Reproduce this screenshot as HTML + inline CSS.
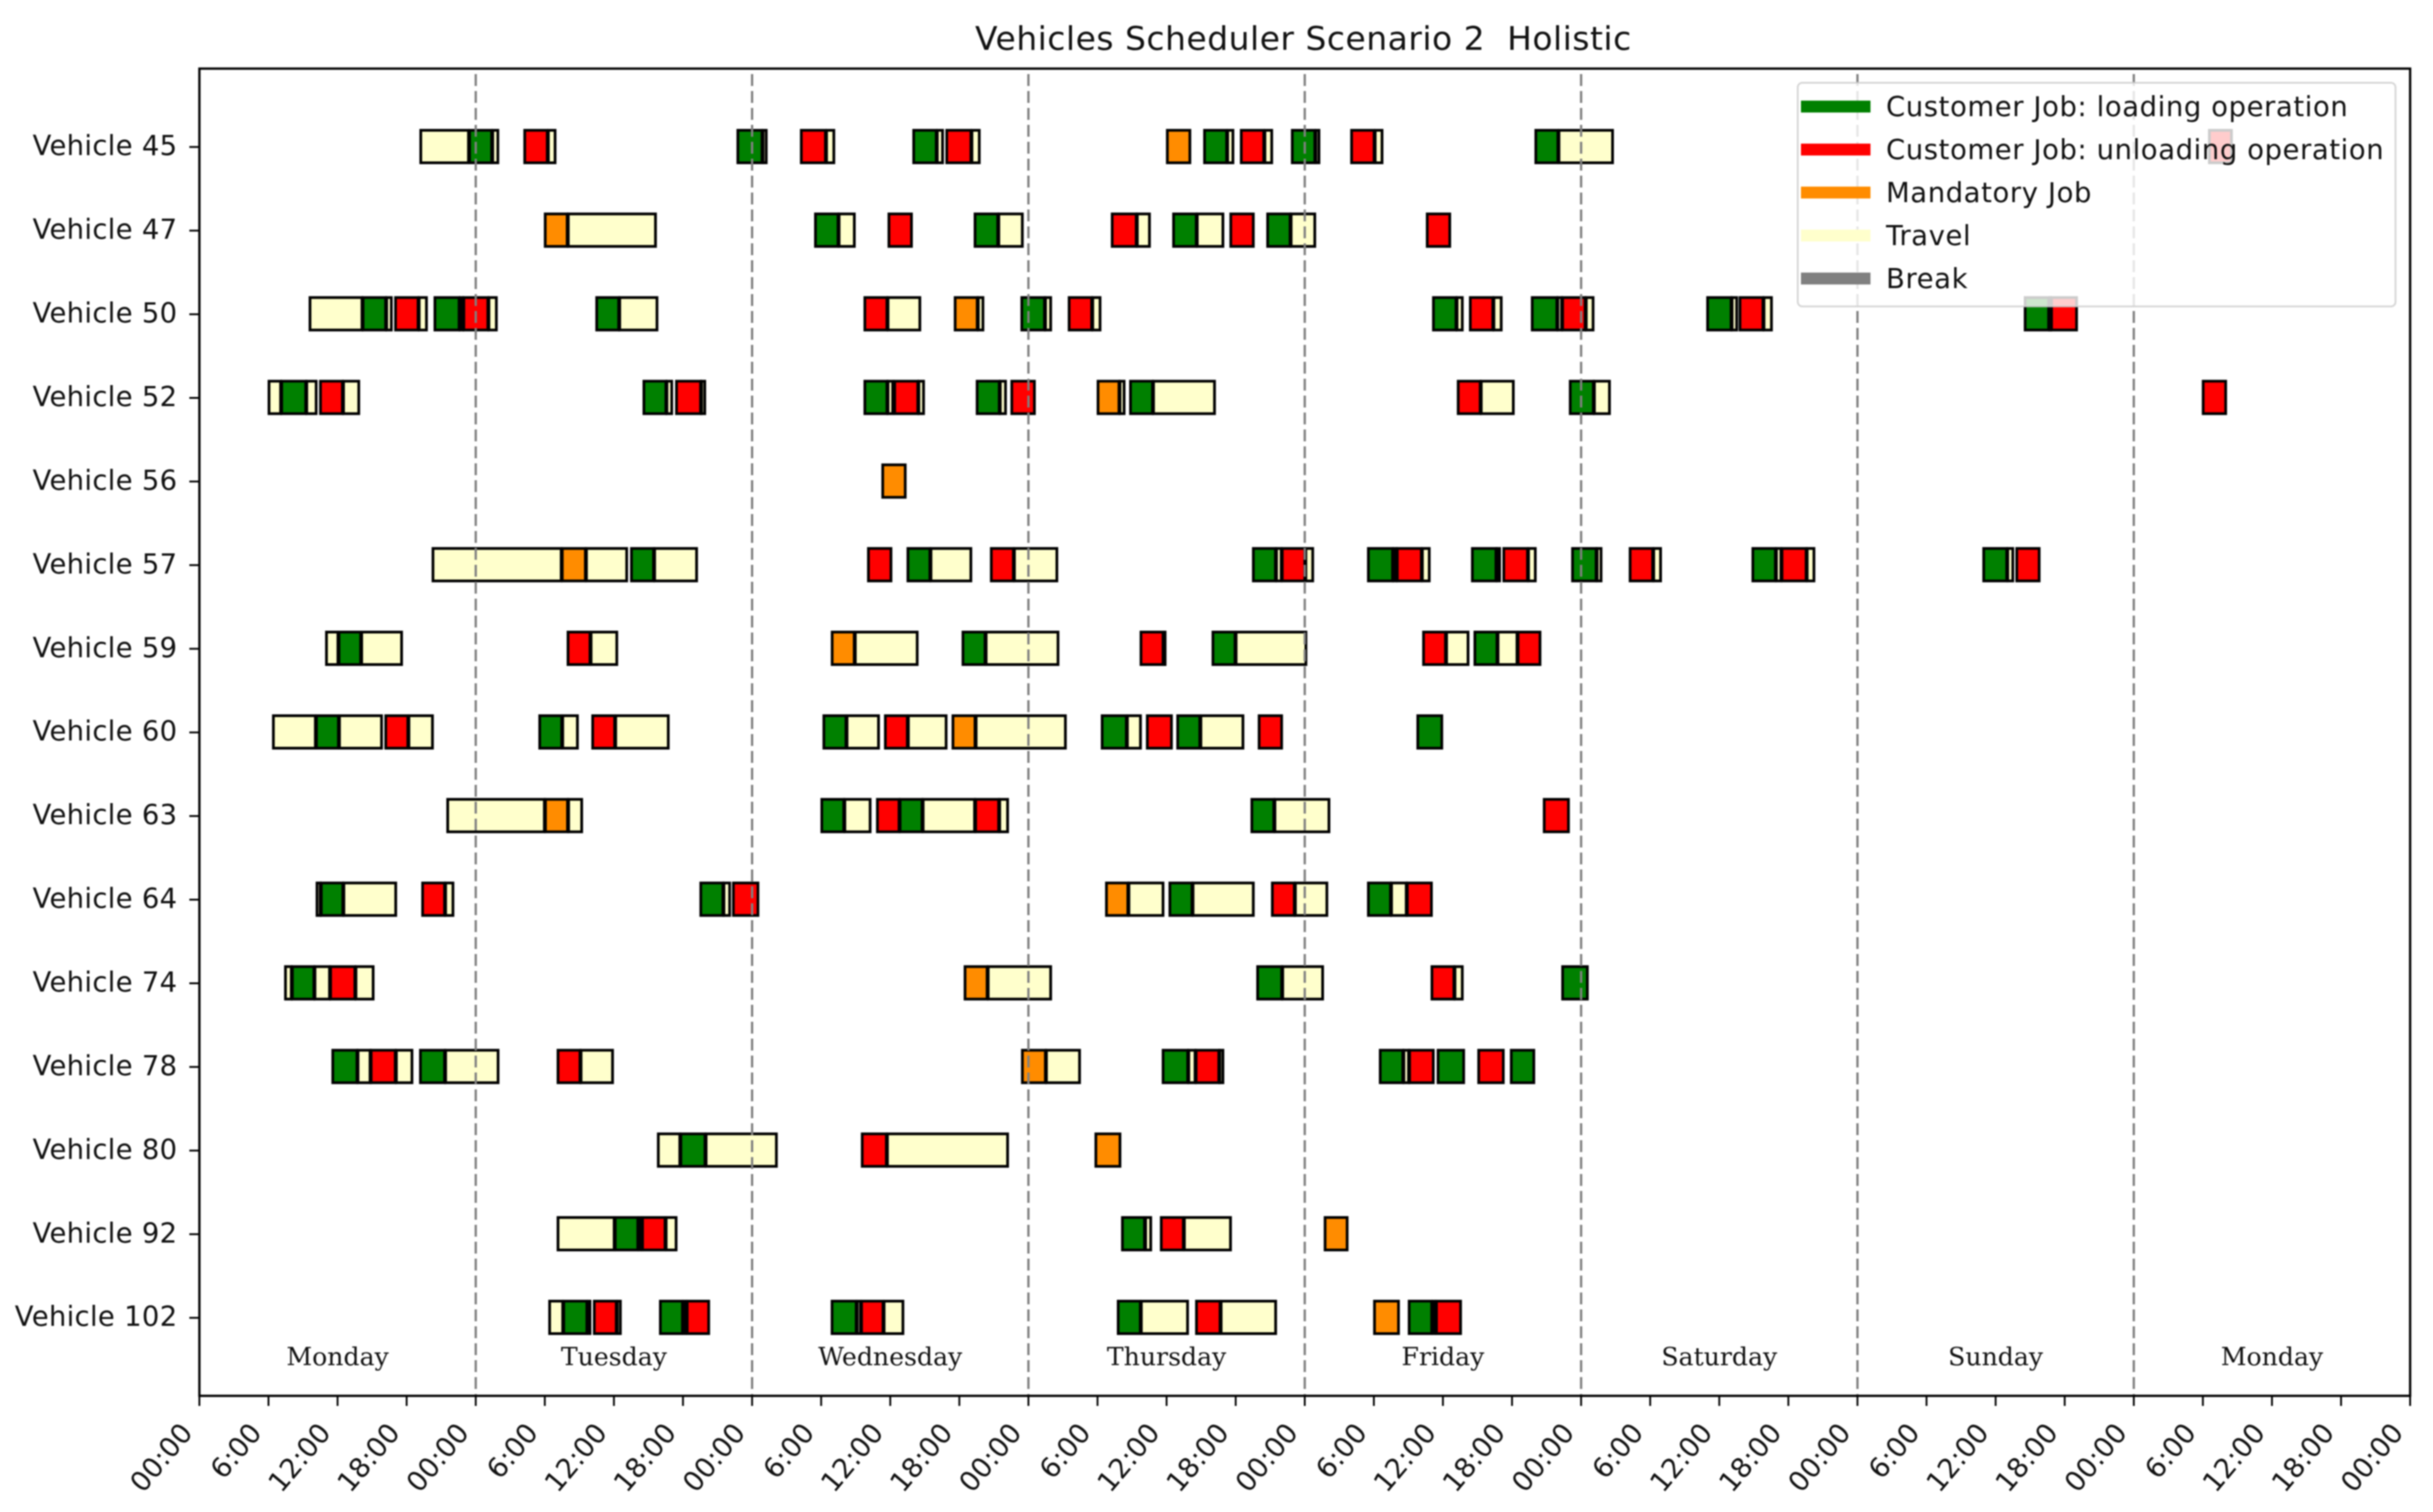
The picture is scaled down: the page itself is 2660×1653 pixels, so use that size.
<!DOCTYPE html>
<html lang="en">
<head>
<meta charset="utf-8">
<title>Vehicles Scheduler Scenario 2 Holistic</title>
<style>
html,body{margin:0;padding:0;background:#fff;width:2660px;height:1653px;overflow:hidden}
svg{display:block;filter:blur(0.8px)}
text{font-family:"DejaVu Sans","Liberation Sans",sans-serif;fill:#111}
.day{font-family:"DejaVu Serif","Liberation Serif",serif}
.lg{letter-spacing:0.65px}
.yl{letter-spacing:0.34px}
</style>
</head>
<body>
<svg id="chart" xmlns="http://www.w3.org/2000/svg" width="2660" height="1653" viewBox="0 0 2660 1653">
  <rect x="0" y="0" width="2660" height="1653" fill="#fff"/>
  <text x="1425" y="54.5" font-size="36" text-anchor="middle" style="white-space:pre;letter-spacing:0.56px" xml:space="preserve">Vehicles Scheduler Scenario 2  Holistic</text>
  <g id="bars"></g>
  <g id="day-lines"></g>
  <g id="day-labels"></g>
  <g id="y-axis"></g>
  <g id="x-axis"></g>
  <rect x="218" y="75" width="2417" height="1451" fill="none" stroke="#000" stroke-width="2.5"/>
  <g>
    <rect x="1965.5" y="90.5" width="653.5" height="244.5" rx="5" ry="5" fill="#fff" fill-opacity="0.8" stroke="#ccc" stroke-opacity="0.8" stroke-width="2"/>
    <g>
      <rect x="1969" y="110" width="76" height="13" fill="#008000"/>
      <text class="lg" x="2062" y="127" font-size="30">Customer Job: loading operation</text>
    </g>
    <g>
      <rect x="1969" y="157" width="76" height="13" fill="#ff0000"/>
      <text class="lg" x="2062" y="174" font-size="30">Customer Job: unloading operation</text>
    </g>
    <g>
      <rect x="1969" y="204" width="76" height="13" fill="#ff8c00"/>
      <text class="lg" x="2062" y="221" font-size="30">Mandatory Job</text>
    </g>
    <g>
      <rect x="1969" y="251" width="76" height="13" fill="#ffffcc"/>
      <text class="lg" x="2062" y="268" font-size="30">Travel</text>
    </g>
    <g>
      <rect x="1969" y="298" width="76" height="13" fill="#808080"/>
      <text class="lg" x="2062" y="315" font-size="30">Break</text>
    </g>
  </g>
</svg>
<script>
// Categories and tick labels
const vehicles = ["Vehicle 45","Vehicle 47","Vehicle 50","Vehicle 52","Vehicle 56","Vehicle 57","Vehicle 59","Vehicle 60","Vehicle 63","Vehicle 64","Vehicle 74","Vehicle 78","Vehicle 80","Vehicle 92","Vehicle 102"];
const dayNames = ["Monday","Tuesday","Wednesday","Thursday","Friday","Saturday","Sunday","Monday"];
const hourLabels = ["00:00","6:00","12:00","18:00"];
// Segments: [kind, start hour, end hour], hours counted from the first Monday 00:00
// L = loading, U = unloading, M = mandatory job, T = travel
const vehicle45 = [["T",19.21,23.45],["L",23.45,25.46],["T",25.46,26.00],["U",28.24,30.29],["T",30.29,30.97],["L",46.75,48.94],["T",48.94,49.31],["U",52.26,54.45],["T",54.45,55.18],["L",62.02,64.07],["T",64.07,64.62],["U",64.89,67.08],["T",67.08,67.81],["M",84.05,86.10],["L",87.28,89.29],["T",89.29,89.84],["U",90.47,92.52],["T",92.52,93.21],["L",94.90,96.95],["T",96.95,97.31],["U",100.05,102.10],["T",102.10,102.79],["L",116.05,118.06],["T",118.06,122.81],["U",174.55,176.56]];
const vehicle47 = [["M",30.02,32.02],["T",32.02,39.69],["L",53.49,55.54],["T",55.54,56.96],["U",59.87,61.92],["L",67.35,69.41],["T",69.41,71.55],["U",79.26,81.44],["T",81.44,82.59],["L",84.59,86.65],["T",86.65,88.97],["U",89.56,91.61],["L",92.76,94.80],["T",94.80,96.95],["U",106.62,108.67]];
const vehicle50 = [["T",9.59,14.20],["L",14.20,16.25],["T",16.25,16.75],["U",17.02,19.07],["T",19.07,19.80],["L",20.44,22.63],["T",22.63,22.95],["U",22.95,25.13],["T",25.13,25.87],["L",34.49,36.49],["T",36.49,39.82],["U",57.78,59.79],["T",59.79,62.65],["M",65.62,67.63],["T",67.63,68.13],["L",71.41,73.47],["T",73.47,74.01],["U",75.52,77.57],["T",77.57,78.30],["L",107.16,109.21],["T",109.21,109.76],["U",110.36,112.41],["T",112.41,113.14],["L",115.74,117.97],["T",117.97,118.38],["U",118.38,120.43],["T",120.43,121.12],["L",130.97,133.10],["T",133.10,133.59],["U",133.78,135.87],["T",135.87,136.61],["L",158.55,160.68],["T",160.68,160.84],["U",160.84,163.11]];
const vehicle52 = [["T",6.03,7.13],["L",7.13,9.31],["T",9.31,10.22],["U",10.50,12.50],["T",12.50,13.92],["L",38.59,40.59],["T",40.59,41.10],["U",41.42,43.60],["T",43.60,43.97],["L",57.78,59.79],["T",59.79,60.29],["U",60.37,62.47],["T",62.47,62.97],["L",67.53,69.54],["T",69.54,70.09],["U",70.54,72.60],["M",78.03,79.94],["T",79.94,80.39],["L",80.85,82.85],["T",82.85,88.24],["U",109.31,111.31],["T",111.31,114.19],["L",119.04,121.14],["T",121.14,122.54],["U",174.01,176.06]];
const vehicle56 = [["M",59.33,61.38]];
const vehicle57 = [["T",20.27,31.50],["M",31.50,33.60],["T",33.60,37.19],["L",37.51,39.52],["T",39.52,43.26],["U",58.09,60.14],["L",61.52,63.52],["T",63.52,67.08],["U",68.76,70.77],["T",70.77,74.55],["L",91.52,93.53],["T",93.53,94.03],["U",94.03,96.08],["T",96.08,96.77],["L",101.51,103.70],["T",103.70,104.02],["U",104.02,106.20],["T",106.20,106.89],["L",110.54,112.68],["T",112.68,113.00],["U",113.27,115.42],["T",115.42,116.10],["L",119.24,121.38],["T",121.38,121.81],["U",124.24,126.29],["T",126.29,126.98],["L",134.90,136.95],["T",136.95,137.43],["U",137.43,139.62],["T",139.62,140.30],["L",154.95,157.04],["T",157.04,157.57],["U",157.82,159.86]];
const vehicle59 = [["T",11.02,12.11],["L",12.11,14.08],["T",14.08,17.64],["U",32.00,34.00],["T",34.00,36.33],["M",54.94,56.95],["T",56.95,62.42],["L",66.30,68.31],["T",68.31,74.65],["U",81.76,83.77],["T",83.77,83.95],["L",88.01,90.02],["T",90.02,96.18],["U",106.30,108.30],["T",108.30,110.26],["L",110.76,112.77],["T",112.77,114.51],["U",114.51,116.51]];
const vehicle60 = [["T",6.41,10.15],["L",10.15,12.15],["T",12.15,15.90],["U",16.17,18.18],["T",18.18,20.32],["L",29.54,31.54],["T",31.54,32.91],["U",34.14,36.14],["T",36.14,40.80],["L",54.22,56.23],["T",56.23,59.06],["U",59.56,61.56],["T",61.56,64.93],["M",65.43,67.44],["T",67.44,75.29],["L",78.39,80.58],["T",80.58,81.81],["U",82.31,84.50],["L",84.95,86.96],["T",86.96,90.71],["U",92.02,94.07],["L",105.80,107.98]];
const vehicle63 = [["T",21.55,30.04],["M",30.04,32.05],["T",32.05,33.28],["L",54.04,56.04],["T",56.04,58.33],["U",58.87,60.84],["L",60.84,62.84],["T",62.84,67.40],["U",67.40,69.49],["T",69.49,70.27],["L",91.39,93.39],["T",93.39,98.18],["U",116.78,118.98]];
const vehicle64 = [["T",10.20,10.57],["L",10.57,12.53],["T",12.53,17.13],["U",19.37,21.37],["T",21.37,22.10],["L",43.53,45.54],["T",45.54,46.13],["U",46.36,48.59],["M",78.76,80.71],["T",80.71,83.77],["L",84.27,86.28],["T",86.28,91.61],["U",93.17,95.17],["T",95.17,98.00],["L",101.51,103.52],["T",103.52,104.89],["U",104.89,107.08]];
const vehicle74 = [["T",7.46,8.06],["L",8.06,10.02],["T",10.02,11.38],["U",11.38,13.58],["T",13.58,15.17],["M",66.48,68.49],["T",68.49,74.01],["L",91.89,94.07],["T",94.07,97.63],["U",107.03,109.03],["T",109.03,109.76],["L",118.38,120.62]];
const vehicle78 = [["L",11.57,13.76],["T",13.76,14.90],["U",14.90,17.09],["T",17.09,18.54],["L",19.18,21.37],["T",21.37,26.02],["U",31.13,33.13],["T",33.13,35.96],["M",71.46,73.55],["T",73.55,76.52],["L",83.68,85.91],["T",85.91,86.55],["U",86.55,88.61],["T",88.61,88.97],["L",102.54,104.59],["T",104.59,105.09],["U",105.09,107.24],["L",107.56,109.88],["U",111.09,113.32],["L",113.92,115.97]];
const vehicle80 = [["T",39.84,41.80],["L",41.80,43.99],["T",43.99,50.19],["U",57.55,59.74],["T",59.74,70.27],["M",77.84,80.03]];
const vehicle92 = [["T",31.13,36.10],["L",36.10,38.15],["T",38.15,38.47],["U",38.47,40.52],["T",40.52,41.48],["L",80.15,82.16],["T",82.16,82.70],["U",83.52,85.53],["T",85.53,89.63],["M",97.75,99.76]];
const vehicle102 = [["T",30.40,31.63],["L",31.63,33.73],["T",33.73,34.00],["U",34.28,36.28],["T",36.28,36.64],["L",40.02,42.03],["T",42.03,42.35],["U",42.35,44.31],["L",54.93,57.12],["T",57.12,57.49],["U",57.49,59.45],["T",59.45,61.18],["L",79.78,81.79],["T",81.79,85.90],["U",86.58,88.72],["T",88.72,93.55],["M",102.04,104.22],["L",105.05,107.10],["T",107.10,107.42],["U",107.42,109.61]];
const schedules = [vehicle45,vehicle47,vehicle50,vehicle52,vehicle56,vehicle57,vehicle59,vehicle60,vehicle63,vehicle64,vehicle74,vehicle78,vehicle80,vehicle92,vehicle102];

const NS = "http://www.w3.org/2000/svg";
const kindColor = {L:"#008000",U:"#ff0000",M:"#ff8c00",T:"#ffffcc"};
const kindName = {L:"loading",U:"unloading",M:"mandatory",T:"travel"};
const plotLeft = 218, plotRight = 2635, plotTop = 75, plotBottom = 1526;
const totalHours = dayNames.length * 24;
function xScale(h){ return plotLeft + h * (plotRight - plotLeft) / totalHours; }
function yScale(i){ return 160.7 + i * 91.43; }
function make(tag, parent, attrs){
  const el = document.createElementNS(NS, tag);
  for (const k in attrs) el.setAttribute(k, attrs[k]);
  parent.appendChild(el);
  return el;
}
const barsG = document.getElementById("bars");
const linesG = document.getElementById("day-lines");
const labelsG = document.getElementById("day-labels");
const yG = document.getElementById("y-axis");
const xG = document.getElementById("x-axis");
const barHeight = 35.5;

schedules.forEach(function(rows, i){
  rows.forEach(function(seg){
    const x0 = xScale(seg[1]), x1 = xScale(seg[2]);
    const r = make("rect", barsG, {x:x0+0.2, y:yScale(i)-barHeight/2-0.5, width:Math.max(x1-x0-1.2,1), height:barHeight, fill:kindColor[seg[0]], stroke:"#000", "stroke-width":3});
    
    
  });
});

vehicles.forEach(function(name, i){
  const y = yScale(i);
  const t = make("line", yG, {x1:207, x2:plotLeft, y1:y, y2:y, stroke:"#000", "stroke-width":2});
  
  
  const l = make("text", yG, {x:194, y:y+9, "font-size":30, "text-anchor":"end", "class":"yl"});
  l.textContent = name;
  
  
});

dayNames.forEach(function(name, d){
  const mid = xScale(d*24 + 12);
  const lab = make("text", labelsG, {x:mid, y:1492.5, "font-size":27.5, "text-anchor":"middle", "class":"day"});
  lab.textContent = name;
  
  
  if (d > 0) {
    const ln = make("line", linesG, {x1:xScale(d*24), x2:xScale(d*24), y1:81, y2:plotBottom, stroke:"#808080", "stroke-width":2.5, "stroke-dasharray":"13 5.5"});
    
    
  }
});

for (let k = 0; k <= totalHours / 6; k++) {
  const tx = xScale(k*6);
  const tick = make("line", xG, {x1:tx, x2:tx, y1:plotBottom, y2:1537, stroke:"#000", "stroke-width":2});
  
  
  const lbl = make("text", xG, {"font-size":30, "text-anchor":"end", transform:"translate("+(tx-6)+",1567) rotate(-50)"});
  lbl.textContent = hourLabels[k % hourLabels.length];
  
  
}
</script>
</body>
</html>
